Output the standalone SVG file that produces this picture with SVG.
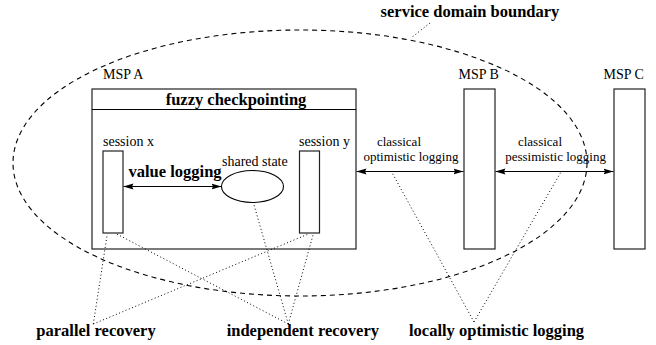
<svg xmlns="http://www.w3.org/2000/svg" width="656" height="345" viewBox="0 0 656 345">
<style>
.box{fill:#fff;stroke:#222;stroke-width:1.2}
.reg{font-family:"Liberation Serif","DejaVu Serif","Times New Roman",Times,serif;font-size:14px;fill:#000}
.sm{font-size:13px}
.bold{font-family:"Liberation Serif","DejaVu Serif","Times New Roman",Times,serif;font-size:16.5px;font-weight:bold;fill:#000}
.arrow{stroke:#000;stroke-width:1.2;fill:none;marker-start:url(#ah);marker-end:url(#ah)}
.dot{stroke:#000;stroke-width:1;fill:none;stroke-dasharray:1 2.5}
.dash{stroke:#000;stroke-width:1.1;fill:none;stroke-dasharray:5 4}
</style>
<defs>
<marker id="ah" markerWidth="10" markerHeight="8" refX="10" refY="4" orient="auto-start-reverse" markerUnits="userSpaceOnUse">
<path d="M0,1 L10,4 L0,7 L1.5,4 z" fill="#000"/>
</marker>
</defs>
<rect width="656" height="345" fill="#fff"/>

<g id="mspA">
<rect class="box" x="92" y="89" width="264" height="160"/>
<line x1="92" y1="109.5" x2="356" y2="109.5" stroke="#000" stroke-width="1.2"/>
<text class="reg" x="103" y="79">MSP A</text>
<text class="bold" x="236" y="105" text-anchor="middle">fuzzy checkpointing</text>
</g>
<g id="sessionX">
<rect class="box" x="103" y="151" width="20" height="82"/>
<text class="reg" x="103" y="146">session x</text>
</g>
<g id="sessionY">
<rect class="box" x="299.5" y="151" width="20" height="82"/>
<text class="reg" x="299" y="146">session y</text>
</g>
<g id="sharedState">
<ellipse cx="252.5" cy="186.5" rx="31" ry="16" fill="#fff" stroke="#000" stroke-width="1.1"/>
<text class="reg" x="222" y="166">shared state</text>
</g>
<g id="mspB">
<rect class="box" x="464" y="89" width="31" height="160"/>
<text class="reg" x="458.5" y="79">MSP B</text>
</g>
<g id="mspC">
<rect class="box" x="614" y="89" width="31" height="160"/>
<text class="reg" x="603.5" y="79">MSP C</text>
</g>

<g id="boundary">
<ellipse class="dash" cx="300" cy="163" rx="287" ry="133"/>
<text class="bold" x="470" y="17" text-anchor="middle">service domain boundary</text>
</g>

<g id="connectors">
<line class="arrow" x1="123.5" y1="186.5" x2="221.5" y2="186.5"/>
<line class="arrow" x1="356.5" y1="171.5" x2="463.5" y2="171.5"/>
<line class="arrow" x1="495.5" y1="171.5" x2="613.5" y2="171.5"/>
<line class="dot" x1="430" y1="23" x2="411.5" y2="37.5"/>
<line class="dot" x1="93.3" y1="324" x2="107.3" y2="234"/>
<line class="dot" x1="93.3" y1="324" x2="308.3" y2="234"/>
<line class="dot" x1="288.3" y1="324" x2="116.7" y2="234"/>
<line class="dot" x1="288.3" y1="324" x2="253.3" y2="202.5"/>
<line class="dot" x1="288.3" y1="324" x2="313.3" y2="234"/>
<line class="dot" x1="474" y1="322" x2="391.7" y2="172"/>
<line class="dot" x1="474" y1="322" x2="561" y2="172"/>
</g>

<g id="labels">
<text class="bold" x="128.5" y="176.5">value logging</text>
<text class="reg sm" x="399" y="146" text-anchor="middle">classical</text>
<text class="reg sm" x="411" y="160.5" text-anchor="middle">optimistic logging</text>
<text class="reg sm" x="540" y="146" text-anchor="middle">classical</text>
<text class="reg sm" x="555.5" y="160.5" text-anchor="middle">pessimistic logging</text>
<text class="bold" x="96" y="336" text-anchor="middle">parallel recovery</text>
<text class="bold" x="226.7" y="336">independent recovery</text>
<text class="bold" x="409" y="336">locally optimistic logging</text>
</g>
</svg>
